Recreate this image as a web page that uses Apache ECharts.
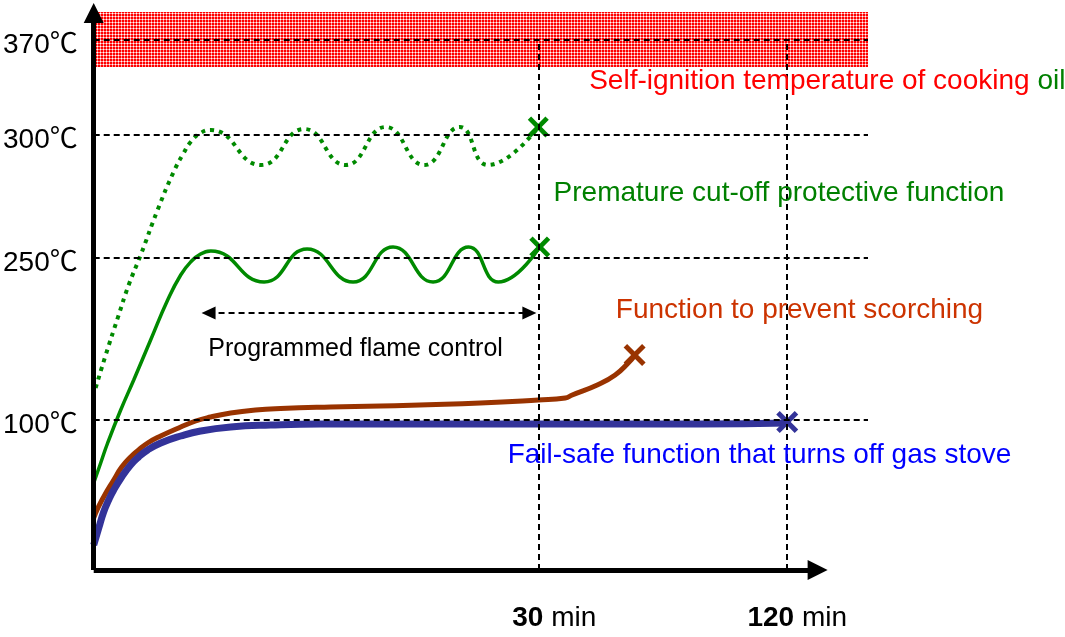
<!DOCTYPE html>
<html>
<head>
<meta charset="utf-8">
<script src="https://cdn.jsdelivr.net/npm/echarts@6/dist/echarts.min.js"></script>
<style>html,body{margin:0;padding:0;background:#fff;}#c{width:1065px;height:637px;}</style>
</head>
<body>
<div id="c"></div>
<script>
// ---- Data (schematic units: x = minutes scale where 30 min = 30, y = schematic temperature level) ----
var tempTickValues = [150, 312, 435, 530];
var tempTickLabels = ['100℃', '250℃', '300℃', '370℃'];
var timeTickValues = [30, 46.8];
var timeTickNumbers = ['30', '120'];
var timeTickUnit = 'min';

var dottedGreen = [[0.13,182],[0.81,215],[1.62,252],[2.36,285],[3.17,315],[4.31,360],[5.39,398],[6.07,417],[6.54,428],[7.21,437],[7.9,440],[11.3,405],[14.2,441],[17.0,405],[19.7,443],[22.3,405],[24.7,443],[26.6,405],[30.0,443]];
var solidGreen = [[0,87],[0.47,107],[0.94,127],[1.82,160],[2.7,190],[3.84,230],[4.99,270],[5.87,295],[6.54,308],[7.21,316],[7.9,319],[11.5,288],[14.4,321],[17.5,288],[20.2,323],[22.9,288],[25.3,323],[27.3,288],[30.1,323]];
var brownCurve = [[-0.34,38],[0.13,57],[0.67,73],[1.35,90],[1.89,103],[2.49,113],[3.03,120],[3.64,127],[4.52,134],[5.87,143],[6.88,149],[7.89,153],[9.24,157],[10.92,160],[12.61,161.5],[15.98,163],[19.35,164],[26.09,167],[30.0,170],[31.82,172],[32.29,175],[33.98,185],[35.19,195],[36.07,207],[36.54,215]];
var blueCurve = [[0,25],[0.34,42],[0.67,58],[1.01,70],[1.35,80],[1.89,93],[2.49,105],[3.03,113],[3.64,120],[4.52,127],[5.87,134],[7.21,139],[9.24,143],[11.94,145],[15.3,146],[22.05,146],[30.0,146],[40.92,146],[46.85,147]];
var cutoffMarks = [[30.0,443],[30.1,323]];
var scorchMark = [[36.5,215]];
var failsafeMark = [[46.8,148]];
var ignitionBand = [558, 503];
var flameControlSpan = [7.75, 29.4, 257];

var annotations = [
  {name:'ignition', value:[33.4,489], text:'{r|Self-ignition temperature of cooking }{g|oil}'},
  {name:'premature', value:[31.0,377], text:'{g|Premature cut-off protective function}'},
  {name:'scorch', value:[35.2,260], text:'{o|Function to prevent scorching}'},
  {name:'flame', value:[7.7,221], text:'{k|Programmed flame control}'},
  {name:'failsafe', value:[27.9,115], text:'{b|Fail-safe function that turns off gas stove}'}
];

var X_MAX = 52.25, Y_MAX = 567;
var FONT = "'Liberation Sans', Arial, 'Noto Sans CJK JP', sans-serif";
var GREEN = '#008a00', BROWN = '#993300', BLUE = '#333399';
var xPath = 'path://M0,1.6 L1.6,0 L5,3.4 L8.4,0 L10,1.6 L6.6,5 L10,8.4 L8.4,10 L5,6.6 L1.6,10 L0,8.4 L3.4,5 Z';

// dotted red pattern
var pc = document.createElement('canvas');
pc.width = 3; pc.height = 3;
var pctx = pc.getContext('2d');
pctx.fillStyle = '#ff0000'; pctx.fillRect(0,0,3,3);
pctx.fillStyle = '#ff9090'; pctx.fillRect(0,1,1,1); pctx.fillRect(1,0,1,1); pctx.fillRect(2,1,1,1); pctx.fillRect(1,2,1,1);
pctx.fillStyle = '#ffffff'; pctx.fillRect(1,1,1,1);

var dashStyle = {color:'#000', width:2, type:[6,4]};

var refLines = [];
tempTickValues.forEach(function(v){ refLines.push([{coord:[0,v]},{coord:[X_MAX,v]}]); });
timeTickValues.forEach(function(t){ refLines.push([{coord:[t,0]},{coord:[t,tempTickValues[3]]}]); });

var chart = echarts.init(document.getElementById('c'), null, {renderer:'canvas'});
chart.setOption({
  animation: false,
  backgroundColor: '#fff',
  textStyle: {fontFamily: FONT},
  grid: {left: 93, right: 197, top: 3, bottom: 67, containLabel: false},
  xAxis: {
    type: 'value', min: 0, max: X_MAX,
    axisLine: {show:false}, axisTick: {show:false}, splitLine: {show:false},
    axisLabel: {
      customValues: timeTickValues, margin: 34, fontSize: 28, color: '#000', fontFamily: FONT,
      formatter: function(v){
        var i = v > 40 ? 1 : 0;
        return '{s' + i + '|}{n|' + timeTickNumbers[i] + '} ' + timeTickUnit;
      },
      rich: {n:{fontWeight:'bold', fontSize:28, fontFamily:FONT}, s0:{width:32}, s1:{width:20}}
    }
  },
  yAxis: {
    type: 'value', min: 0, max: Y_MAX,
    axisLine: {show:false}, axisTick: {show:false}, splitLine: {show:false},
    axisLabel: {
      customValues: tempTickValues, margin: 16, color: '#000', fontFamily: FONT,
      formatter: function(v){ return '{t|' + tempTickLabels[tempTickValues.indexOf(v)] + '}'; },
      rich: {t: {fontSize: 28, fontFamily: FONT, color:'#000', padding: [10,0,0,0]}}
    }
  },
  series: [
    {
      type: 'line', name: 'refs', data: [], z: 1, silent: true,
      markArea: {
        silent: true,
        itemStyle: {color: {image: pc, repeat: 'repeat'}},
        data: [[{coord:[0, ignitionBand[0]]},{coord:[X_MAX, ignitionBand[1]]}]]
      },
      markLine: {
        silent: true, symbol: ['none','none'], label: {show:false},
        lineStyle: dashStyle, emphasis: {disabled:true},
        data: refLines
      }
    },
    {
      type: 'line', name: 'flame', data: [], z: 2, silent: true,
      markLine: {
        silent: true, symbol: ['triangle','triangle'], symbolSize: [13,14], label:{show:false},
        lineStyle: {color:'#000', width:2, type:[6,4]}, itemStyle:{color:'#000'},
        emphasis: {disabled:true},
        data: [[{coord:[flameControlSpan[0], flameControlSpan[2]]},{coord:[flameControlSpan[1], flameControlSpan[2]]}]]
      }
    },
    {type:'line', name:'premature300', data: dottedGreen, smooth: 0.5, showSymbol:false, z:3, silent:true,
      lineStyle:{color:GREEN, width:4, type:[4,5], cap:'butt'}},
    {type:'line', name:'premature250', data: solidGreen, smooth: 0.5, showSymbol:false, z:3, silent:true,
      lineStyle:{color:GREEN, width:3.5}},
    {type:'line', name:'scorch', data: brownCurve, smooth: 0.5, showSymbol:false, z:3, silent:true, clip:false,
      lineStyle:{color:BROWN, width:5}},
    {type:'line', name:'failsafe', data: blueCurve, smooth: 0.5, showSymbol:false, z:3, silent:true, clip:false,
      lineStyle:{color:BLUE, width:7}},
    {type:'scatter', name:'cutoffX', data: cutoffMarks, symbol: xPath, symbolSize: 21, z:4, silent:true,
      itemStyle:{color:GREEN, opacity:1}},
    {type:'scatter', name:'scorchX', data: scorchMark, symbol: xPath, symbolSize: 22, z:4, silent:true,
      itemStyle:{color:BROWN, opacity:1}},
    {type:'scatter', name:'failsafeX', data: failsafeMark, symbol: xPath, symbolSize: 22, z:4, silent:true,
      itemStyle:{color:BLUE, opacity:1}},
    {
      type: 'line', name: 'axes', data: [], z: 6, silent: true,
      markLine: {
        silent: true, symbol: ['none','triangle'], symbolSize: [20,20], label:{show:false},
        lineStyle: {color:'#000', width:5, type:'solid'}, itemStyle:{color:'#000'},
        emphasis: {disabled:true},
        data: [
          [{coord:[0,0]},{coord:[0,557]}],
          [{coord:[0,0]},{coord:[48.85,0]}]
        ]
      }
    },
    {
      type: 'scatter', name: 'labels', z: 5, silent: true, symbolSize: 1,
      itemStyle: {color: 'rgba(0,0,0,0)', opacity: 1},
      label: {
        show: true, position: 'right', distance: 0, opacity: 1,
        formatter: function(p){ return p.data.text; },
        rich: {
          r: {color:'#ff0000', fontSize:28, fontFamily:FONT},
          g: {color:'#008000', fontSize:28, fontFamily:FONT},
          o: {color:'#cc3300', fontSize:28, fontFamily:FONT},
          k: {color:'#000000', fontSize:25, fontFamily:FONT},
          b: {color:'#0000ff', fontSize:28, fontFamily:FONT}
        }
      },
      data: annotations
    }
  ]
});
</script>
</body>
</html>
